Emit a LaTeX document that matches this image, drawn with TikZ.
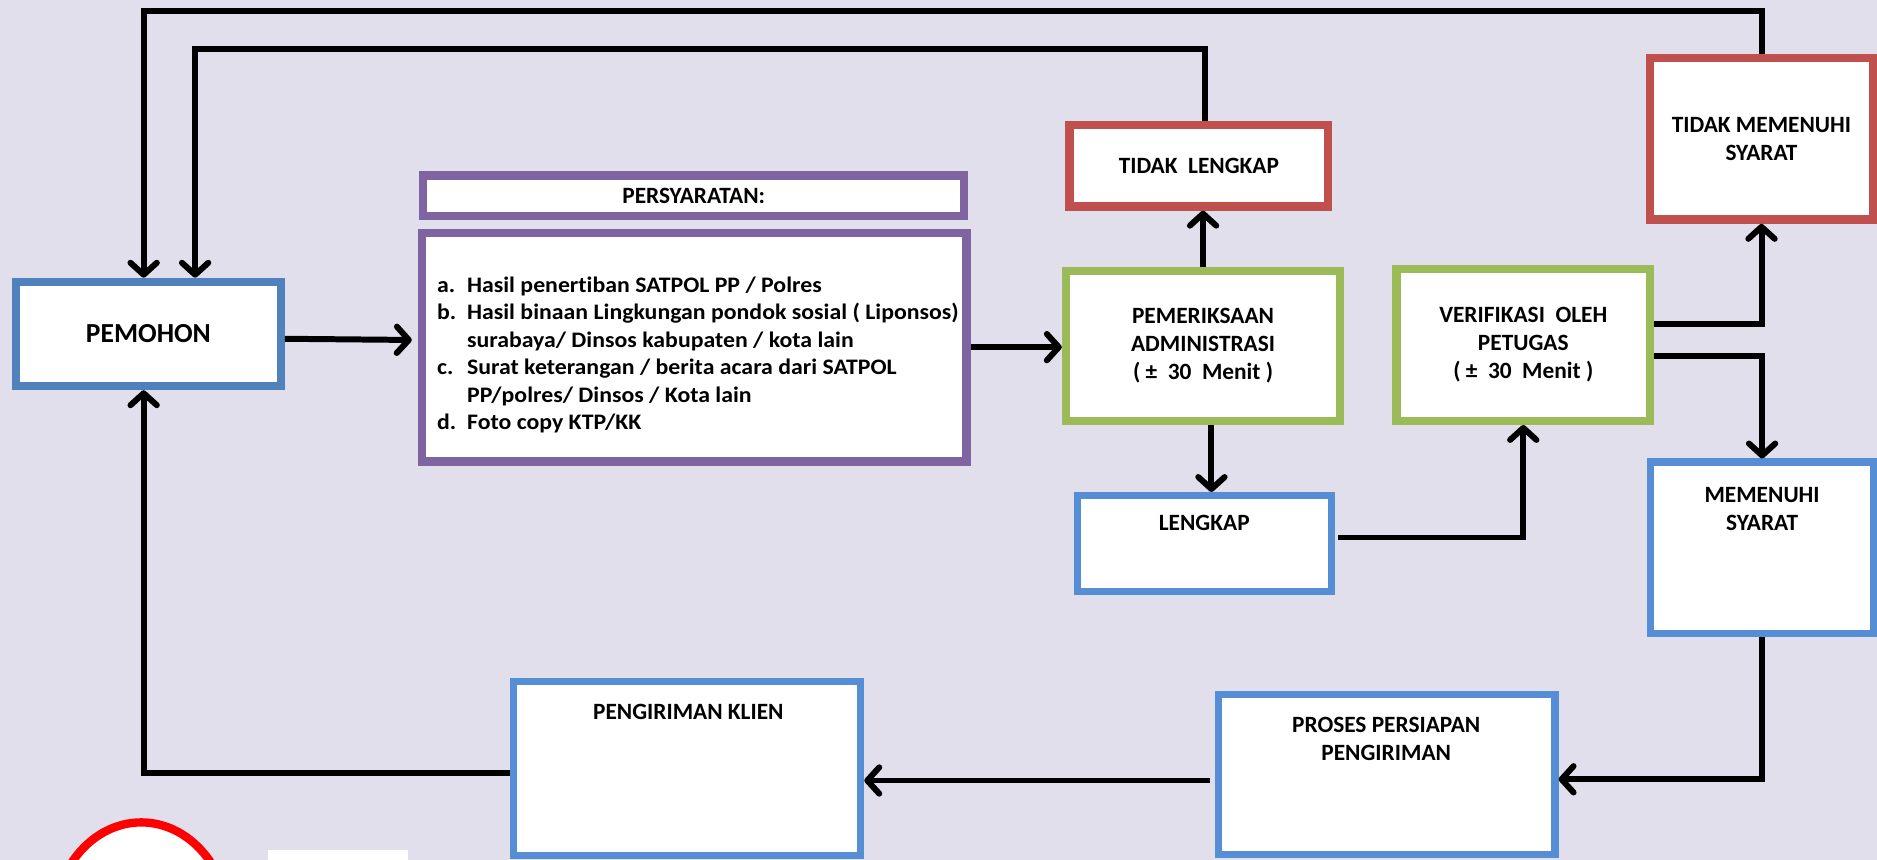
\documentclass[tikz,border=0pt]{standalone}
\usepackage{fontspec}
\setmainfont{Carlito}[Ligatures=NoCommon]
\newfontfamily\listfont{Carlito}[Ligatures=NoCommon, FakeStretch=1.075]
\usetikzlibrary{arrows.meta,calc}
\definecolor{bg}{RGB}{225,223,236}
\definecolor{boxblue}{RGB}{79,129,189}
\definecolor{lightblue}{RGB}{85,142,213}
\definecolor{boxpurple}{RGB}{128,100,162}
\definecolor{boxred}{RGB}{192,80,77}
\definecolor{boxgreen}{RGB}{155,187,89}
\definecolor{ringred}{RGB}{255,0,0}
\begin{document}
\begin{tikzpicture}[x=1pt,y=-1pt,
  box/.style={draw, fill=white, line width=7pt, rectangle, inner sep=0pt,
    align=center, font=\bfseries\fontsize{19.5}{23.5}\selectfont},
  bluebox/.style={box, draw=boxblue},
  lbluebox/.style={box, draw=lightblue, line width=6pt},
  purplebox/.style={box, draw=boxpurple},
  redbox/.style={box, draw=boxred},
  greenbox/.style={box, draw=boxgreen},
  lbl/.style={inner sep=0pt, align=center, font=\bfseries\fontsize{19.5}{23.5}\selectfont},
  link/.style={line width=5pt, draw=black},
  arr/.style={link, -{Straight Barb[length=10pt,width=22pt,round]}},
]
% canvas
\fill[bg] (0,0) rectangle (1568,718);
\useasboundingbox (0,0) rectangle (1568,718);
\clip (0,0) rectangle (1568,718);

% boxes
\node[bluebox, minimum width=221pt, minimum height=87pt,
  font=\bfseries\fontsize{23}{26}\selectfont] (pemohon) at (124,279) {PEMOHON};
\node[purplebox, minimum width=452pt, minimum height=34pt] (head) at (579.5,163.5) {PERSYARATAN:};
\node[purplebox, minimum width=455pt, minimum height=191pt] (req) at (580,290) {};
\node[anchor=west, inner sep=0pt, font=\listfont\bfseries\fontsize{18.5}{23}\selectfont] (reqtext) at (365,297)
  {\begin{tabular}{@{}p{25pt}@{}l@{}}
   a. & Hasil penertiban SATPOL PP / Polres\\
   b. & Hasil binaan Lingkungan pondok sosial ( Liponsos)\\
      & surabaya/ Dinsos kabupaten / kota lain\\
   c. & Surat keterangan / berita acara dari SATPOL\\
      & PP/polres/ Dinsos / Kota lain\\
   d. & Foto copy KTP/KK
  \end{tabular}};

\node[redbox, minimum width=216pt, minimum height=68pt] (tl) at (1001.5,138.5) {TIDAK\ \ LENGKAP};
\node[redbox, minimum width=186pt, minimum height=135pt] (tms) at (1471.5,116) {TIDAK MEMENUHI\\SYARAT};
\node[greenbox, minimum width=229pt, minimum height=125pt] (pem) at (1005,289)
  {PEMERIKSAAN\\ADMINISTRASI\\( ±\ \ 30\ \ Menit )};
\node[greenbox, minimum width=212pt, minimum height=127pt] (ver) at (1272.5,288)
  {VERIFIKASI\ \ OLEH\\PETUGAS\\( ±\ \ 30\ \ Menit )};

\node[lbluebox, minimum width=212pt, minimum height=80pt] (lengkap) at (1006,454) {};
\node[lbl] (lengkaptext) at (1006,437) {LENGKAP};
\node[lbluebox, minimum width=186pt, minimum height=143pt] (mem) at (1472,457.5) {};
\node[lbl] (memtext) at (1472,425) {MEMENUHI\\SYARAT};
\node[lbluebox, minimum width=281pt, minimum height=134pt] (proses) at (1158.5,647) {};
\node[lbl] (prosestext) at (1158,617.5) {PROSES PERSIAPAN\\PENGIRIMAN};
\node[lbluebox, minimum width=290pt, minimum height=145pt] (klien) at (574,642) {};
\node[lbl] (klientext) at (575,595) {PENGIRIMAN KLIEN};

% ring and patch at the lower left
\draw[ringred, line width=7pt, fill=white] (118,775) ellipse [x radius=74, y radius=88];
\fill[white] (224,710) rectangle (341,722);

% corner points of the routed connectors
\coordinate (c1) at (120,9);
\coordinate (c2) at (163,41);
\coordinate (c3) at (120,646);

% return lines to the applicant
\draw[arr] (tms.north) |- (c1) -- (c1 |- pemohon.north);
\draw[arr] ($(tl.north)+(5,0)$) |- (c2) -- (c2 |- pemohon.north);

% main flow
\draw[arr] ($(pemohon.east)+(0,4)$) -- ($(req.west)+(-5,-6)$);
\draw[arr] (req.east) -- (req.east -| pem.west);
\coordinate (p0) at (pem.north);
\draw[arr] (p0) -- (p0 |- tl.south);
\coordinate (p1) at ($(pem.south)+(7,0)$);
\draw[arr] (p1) -- (p1 |- lengkap.north);
\coordinate (p2) at ($(lengkap.east)+(3,-5)$);
\draw[arr] (p2) -| (ver.south);
\coordinate (p3) at ($(ver.east)+(0,-17)$);
\draw[arr] (p3) -| (tms.south);
\coordinate (p4) at ($(ver.east)+(0,9)$);
\draw[arr] (p4) -| (mem.north);
\coordinate (p5) at ($(proses.east)+(0,4)$);
\draw[arr] (mem.south) |- (p5);
\coordinate (p6) at ($(proses.west)+(-4,5)$);
\draw[arr] (p6) -- (p6 -| klien.east);
\coordinate (p7) at ($(klien.west)+(0,4)$);
\draw[arr] (p7) -| (c3 |- pemohon.south);
\end{tikzpicture}
\end{document}
